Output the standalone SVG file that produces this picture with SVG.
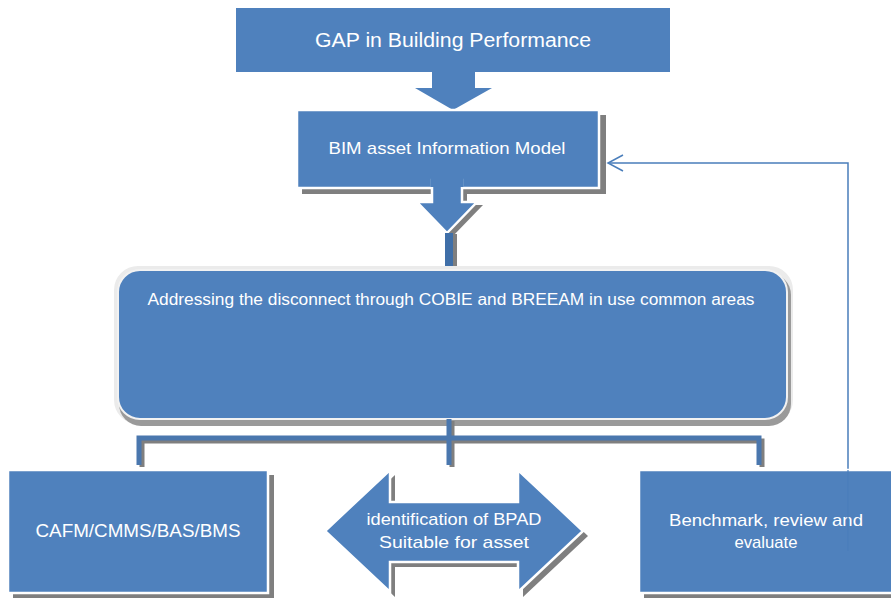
<svg xmlns="http://www.w3.org/2000/svg" width="891" height="598" viewBox="0 0 891 598">
<style>
.fill{fill:#4F81BD}
.edge{fill:#4F81BD;stroke:#ffffff;stroke-width:2.5}
.sh{fill:#7f7f7f}
.t{font-family:"Liberation Sans",Arial,sans-serif;fill:#ffffff;text-anchor:middle}
</style>
<defs>
<marker id="open" markerWidth="18" markerHeight="20" refX="16" refY="9" orient="auto" markerUnits="userSpaceOnUse">
<path d="M1,1 L16,9 L1,17" fill="none" stroke="#4A7EBB" stroke-width="1.5"/>
</marker>
</defs>
<rect width="891" height="598" fill="#ffffff"/>

<g id="gap">
<rect class="fill" x="236" y="8" width="434" height="64"/>
<text class="t" x="453" y="47" font-size="20" textLength="276" lengthAdjust="spacingAndGlyphs">GAP in Building Performance</text>
</g>

<g id="arrow1">
<polygon class="fill" points="432,72 475,72 475,88 492,88 453,110 415,88 432,88"/>
</g>

<g id="bim">
<rect class="sh" x="302" y="115" width="304" height="79"/>
<rect class="edge" x="297" y="110" width="302" height="78"/>
<text class="t" x="447" y="154" font-size="17" textLength="237" lengthAdjust="spacingAndGlyphs">BIM asset Information Model</text>
</g>

<g id="arrow2">
<polygon class="sh" points="437,190 467,190 467,205 483,205 452,237 423,205 437,205"/>
<polygon class="edge" points="432,180 462,180 462,202 477,202 447,233 417,202 432,202"/>
<rect class="fill" x="430.5" y="176" width="33" height="11"/>
<rect class="sh" x="450" y="234" width="7" height="34"/>
<rect x="445" y="233" width="8" height="34" fill="#3F6FA8"/>
</g>

<g id="disconnect">
<rect x="114" y="266" width="679" height="158" rx="24" fill="#ebebeb"/>
<rect x="119" y="273" width="672" height="153" rx="22" fill="#9a9a9a"/>
<rect class="fill" x="118" y="270" width="669" height="149" rx="22" stroke="#f2f2f2" stroke-width="2"/>
<text class="t" x="451" y="305" font-size="16" textLength="607" lengthAdjust="spacingAndGlyphs">Addressing the disconnect through COBIE and BREEAM in use common areas</text>
</g>

<g id="connectors">
<path d="M142,467 V441 H762 V467 M452,421 V467" fill="none" stroke="#7f7f7f" stroke-width="5"/>
<path d="M139,465 V438 H759 V465 M449,419 V465" fill="none" stroke="#4A77AE" stroke-width="5"/>
<path d="M848,551 V163 H608" fill="none" stroke="#4A7EBB" stroke-width="1.5" marker-end="url(#open)"/>
</g>

<g id="cafm">
<rect class="sh" x="13" y="475" width="261" height="125"/>
<rect class="edge" x="8" y="470" width="260" height="123"/>
<text class="t" x="138" y="537" font-size="18" textLength="205" lengthAdjust="spacingAndGlyphs">CAFM/CMMS/BAS/BMS</text>
</g>

<g id="bpad">
<polygon class="sh" points="330,536 395,475 395,507 523,507 523,475 588,536 523,597 523,567 395,567 395,597"/>
<polygon class="edge" points="325,531 390,470 390,502 518,502 518,470 583,531 518,592 518,562 390,562 390,592"/>
<text class="t" x="454" y="525" font-size="17" textLength="175" lengthAdjust="spacingAndGlyphs">identification of BPAD</text>
<text class="t" x="454" y="548" font-size="17" textLength="150" lengthAdjust="spacingAndGlyphs">Suitable for asset</text>
</g>

<g id="benchmark">
<rect class="sh" x="644" y="475" width="260" height="125"/>
<rect class="edge" x="639" y="470" width="260" height="123"/>
<text class="t" x="766" y="526" font-size="17" textLength="194" lengthAdjust="spacingAndGlyphs">Benchmark, review and</text>
<text class="t" x="766" y="548" font-size="17" textLength="63" lengthAdjust="spacingAndGlyphs">evaluate</text>
</g>

<path d="M848,470 V551" fill="none" stroke="#4A7EBB" stroke-width="1.2"/>
</svg>
